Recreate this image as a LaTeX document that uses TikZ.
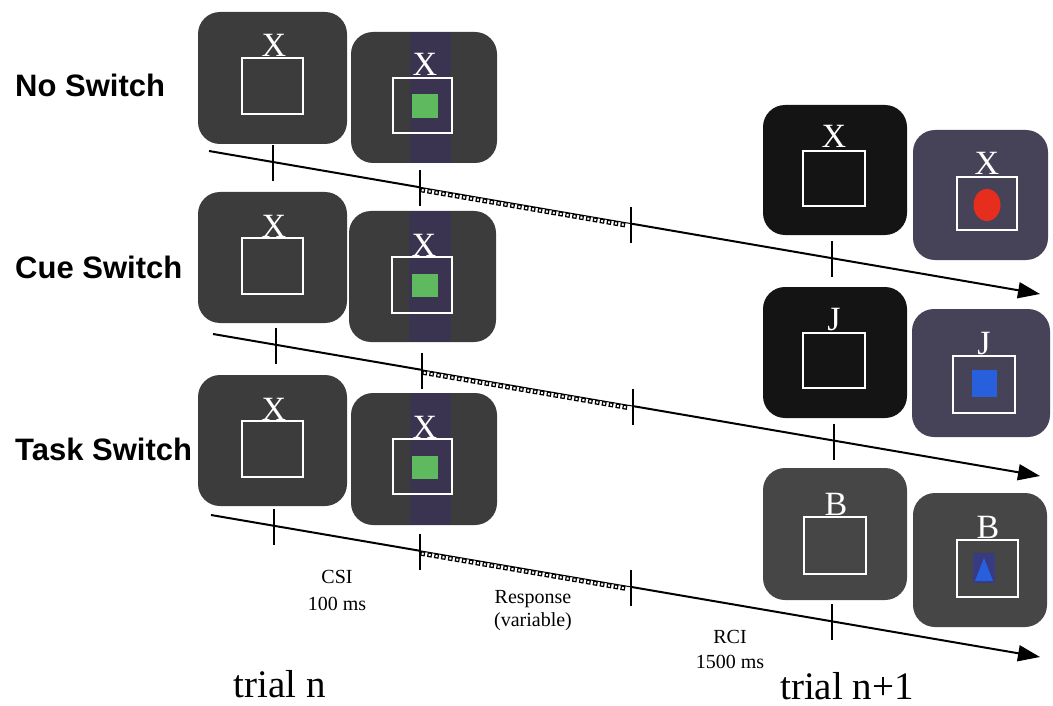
\documentclass[tikz,border=0pt]{standalone}
\usepackage{fontspec}
\setmainfont{Liberation Serif}
\newfontfamily\arialfont{Liberation Sans}
\usetikzlibrary{arrows.meta,decorations.markings,fit,shapes.geometric,calc}

\definecolor{scrgray}{RGB}{60,60,60}
\definecolor{scrblack}{RGB}{20,20,20}
\definecolor{scrpurple}{RGB}{70,66,88}
\definecolor{scrgrayR}{RGB}{70,70,70}
\definecolor{bandpurple}{RGB}{58,52,80}
\definecolor{stimgreen}{RGB}{95,185,95}
\definecolor{stimred}{RGB}{230,45,30}
\definecolor{stimblue}{RGB}{40,95,220}
\definecolor{blobblue}{RGB}{55,60,130}

\tikzset{
  screen/.style={rounded corners=22pt, inner sep=0pt, outer sep=0pt},
  frame/.style={draw=white, line width=1.7pt, inner sep=0pt, outer sep=0pt},
  patch/.style={inner sep=0pt, outer sep=0pt},
  cue/.style={font=\fontsize{34}{34}\selectfont, text=white, inner sep=0pt, anchor=base},
  cond/.style={font=\arialfont\bfseries\fontsize{31}{31}\selectfont, inner sep=0pt, anchor=base west},
  timing/.style={font=\fontsize{20}{20}\selectfont, inner sep=0pt, anchor=base},
  trial/.style={font=\fontsize{39}{39}\selectfont, inner sep=0pt, anchor=base},
  tline/.style={line width=2pt},
  tarrow/.style={line width=2pt, -{Triangle[length=22pt,width=16pt]}},
  tickmark/.style={line width=1.3pt},
  hatch/.style={line width=1pt, postaction={decorate},
    decoration={markings, mark=between positions 0.015 and 0.99 step 7pt with
      {\draw[line width=1.2pt] (-1.7pt,-0.7pt) rectangle (1.7pt,-4.2pt);}}},
}

\begin{document}
\begin{tikzpicture}[x=1pt,y=-1pt]
\useasboundingbox (0,0) rectangle (1053,706);

% ---------- condition labels ----------
\node[cond] (lNo)   at (15,97)  {No Switch};
\node[cond] (lCue)  at (15,278) {Cue Switch};
\node[cond] (lTask) at (15,460) {Task Switch};

% ---------- trial n : cue screens (A) ----------
\node[screen, fill=scrgray, fit={(198,12) (347,144)}]  (A1) {};
\node[screen, fill=scrgray, fit={(198,192) (347,323)}] (A2) {};
\node[screen, fill=scrgray, fit={(198,375) (347,506)}] (A3) {};
\node[frame, fit={(242,58) (303,114)}]  (A1s) {};
\node[frame, fit={(242,238) (303,294)}] (A2s) {};
\node[frame, fit={(242,421) (303,477)}] (A3s) {};
\node[cue] (A1x) at (274,57)  {X};
\node[cue] (A2x) at (274,237) {X};
\node[cue] (A3x) at (274,420) {X};

% ---------- trial n : target screens (B) ----------
\node[screen, fill=scrgray, fit={(351,32) (497,163)}]  (B1) {};
\node[screen, fill=scrgray, fit={(349,211) (496,342)}] (B2) {};
\node[screen, fill=scrgray, fit={(351,393) (497,525)}] (B3) {};
\node[patch, fill=bandpurple, fit={(410,32) (451,163)}]  (B1b) {};
\node[patch, fill=bandpurple, fit={(409,211) (451,342)}] (B2b) {};
\node[patch, fill=bandpurple, fit={(410,393) (451,525)}] (B3b) {};
\node[patch, fill=stimgreen, fit={(412,94) (438,118)}]  (B1g) {};
\node[patch, fill=stimgreen, fit={(412,274) (438,297)}] (B2g) {};
\node[patch, fill=stimgreen, fit={(412,456) (438,479)}] (B3g) {};
\node[frame, fit={(393,78) (452,133)}]  (B1s) {};
\node[frame, fit={(392,257) (452,313)}] (B2s) {};
\node[frame, fit={(393,439) (452,494)}] (B3s) {};
\node[cue] (B1x) at (425,76)  {X};
\node[cue] (B2x) at (424,256) {X};
\node[cue] (B3x) at (425,438) {X};

% ---------- trial n+1 : cue screens (C) ----------
\node[screen, fill=scrblack, fit={(763,105) (907,235)}] (C1) {};
\node[screen, fill=scrblack, fit={(763,287) (907,418)}] (C2) {};
\node[screen, fill=scrgrayR, fit={(763,468) (907,600)}] (C3) {};
\node[frame, fit={(803,151) (865,206)}] (C1s) {};
\node[frame, fit={(803,333) (865,388)}] (C2s) {};
\node[frame, fit={(804,517) (866,574)}] (C3s) {};
\node[cue] (C1x) at (834,148) {X};
\node[cue] (C2x) at (834,330) {J};
\node[cue] (C3x) at (836,515) {B};

% ---------- trial n+1 : target screens (D) ----------
\node[screen, fill=scrpurple, fit={(913,130) (1048,260)}] (D1) {};
\node[screen, fill=scrpurple, fit={(912,309) (1050,437)}] (D2) {};
\node[screen, fill=scrgrayR, fit={(913,493) (1047,627)}]  (D3) {};
\node[ellipse, fill=stimred, minimum width=27pt, minimum height=32pt, inner sep=0pt] (D1r) at (987,205) {};
\node[patch, fill=stimblue, fit={(972,370) (997,397)}] (D2q) {};
\node[patch, fill=blobblue, fit={(973,553) (995,583)}] (D3q) {};
\fill[stimblue] (984,558) -- (975,581) -- (993,581) -- cycle;
\node[frame, fit={(957,177) (1017,230)}] (D1s) {};
\node[frame, fit={(953,356) (1015,413)}] (D2s) {};
\node[frame, fit={(957,540) (1018,597)}] (D3s) {};
\node[cue] (D1x) at (987,175) {X};
\node[cue] (D2x) at (984,354) {J};
\node[cue] (D3x) at (988,538) {B};

% ---------- timelines ----------
\coordinate (s1) at (209,151);
\coordinate (p1a) at (273,162.0);
\coordinate (p1b) at (420,187.3);
\coordinate (p1c) at (631,223.6);
\coordinate (p1d) at (832,258.2);
\coordinate (e1) at (1040,294);

\coordinate (s2) at (213,334);
\coordinate (p2a) at (276,344.8);
\coordinate (p2b) at (422,369.9);
\coordinate (p2c) at (633,406.1);
\coordinate (p2d) at (834,440.6);
\coordinate (e2) at (1040,476);

\coordinate (s3) at (211,515);
\coordinate (p3a) at (274,525.8);
\coordinate (p3b) at (420,550.8);
\coordinate (p3c) at (631,586.9);
\coordinate (p3d) at (832,621.4);
\coordinate (e3) at (1040,657);

\foreach \r in {1,2,3}{
  \draw[tline] (s\r) -- (p\r b);
  \draw[hatch] (p\r b) -- (p\r c);
  \draw[tarrow] (p\r c) -- (e\r);
  \foreach \k in {a,b,c,d}{
    \draw[tickmark] ($(p\r\k)+(0,-17)$) -- ($(p\r\k)+(0,19)$);
  }
}

% ---------- timing labels ----------
\node[timing] (csi)   at (337,583) {CSI};
\node[timing] (csims) at (337,610) {100 ms};
\node[timing] (resp)  at (533,603) {Response};
\node[timing] (var)   at (533,626) {(variable)};
\node[timing] (rci)   at (730,643) {RCI};
\node[timing] (rcims) at (730,668) {1500 ms};

\node[trial] (tn)  at (280,697) {trial n};
\node[trial] (tn1) at (847,699) {trial n+1};
\end{tikzpicture}
\end{document}
